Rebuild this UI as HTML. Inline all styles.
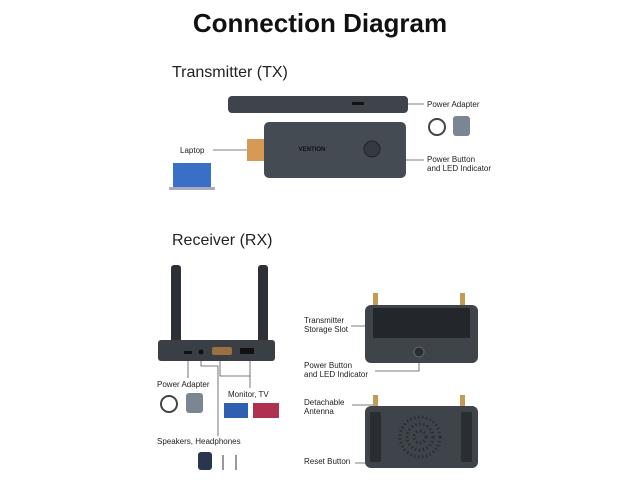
<!DOCTYPE html>
<html><head><meta charset="utf-8"><style>
body{margin:0;width:640px;height:480px;background:#fff;position:relative;overflow:hidden;font-family:"Liberation Sans",sans-serif;color:#222}
.t{position:absolute;white-space:nowrap}
.s{font-size:8px;line-height:9px}
</style></head><body>
<div class="t" style="left:0;width:640px;text-align:center;top:8px;font-size:26px;font-weight:bold;color:#111">Connection Diagram</div>
<div class="t" style="left:172px;top:64px;font-size:16px">Transmitter (TX)</div>
<div class="t" style="left:172px;top:232px;font-size:16px">Receiver (RX)</div>

<div class="t s" style="left:427px;top:100px">Power Adapter</div>
<div class="t s" style="left:427px;top:155px">Power Button<br>and LED Indicator</div>
<div class="t s" style="left:180px;top:146px">Laptop</div>
<div class="t s" style="left:157px;top:380px">Power Adapter</div>
<div class="t s" style="left:228px;top:390px">Monitor, TV</div>
<div class="t s" style="left:157px;top:437px">Speakers, Headphones</div>
<div class="t s" style="left:304px;top:316px">Transmitter<br>Storage Slot</div>
<div class="t s" style="left:304px;top:361px">Power Button<br>and LED Indicator</div>
<div class="t s" style="left:304px;top:398px">Detachable<br>Antenna</div>
<div class="t s" style="left:304px;top:457px">Reset Button</div>

<svg width="640" height="480" style="position:absolute;left:0;top:0">
<g stroke="#555" stroke-width="0.8" fill="none">
<line x1="362" y1="104" x2="424" y2="104"/>
<polyline points="372,149 372,160 424,160"/>
<line x1="213" y1="150" x2="249" y2="150"/>
<line x1="188" y1="356" x2="188" y2="378"/>
<polyline points="201,356 201,366 218,366 218,436"/>
<polyline points="220,360 220,376 250,376 250,360"/>
<line x1="250" y1="376" x2="250" y2="388"/>
<line x1="351" y1="326" x2="376" y2="326"/>
<polyline points="419,356 419,371 375,371"/>
<line x1="352" y1="405" x2="378" y2="405"/>
<line x1="355" y1="463" x2="420" y2="463"/>
</g>
<rect x="228" y="96" width="180" height="17" rx="4" fill="#3f444b"/>
<rect x="352" y="102" width="12" height="3" rx="1" fill="#111"/>
<rect x="247" y="139" width="19" height="22" fill="#d79a55"/>
<rect x="264" y="122" width="142" height="56" rx="5" fill="#454b53"/>
<text x="312" y="151" font-size="6" font-weight="bold" fill="#111" text-anchor="middle" font-family="Liberation Sans">VENTION</text>
<circle cx="372" cy="149" r="8" fill="#353a41" stroke="#222"/>
<circle cx="437" cy="127" r="8" fill="none" stroke="#444" stroke-width="2"/>
<rect x="453" y="116" width="17" height="20" rx="3" fill="#7b8593"/>
<rect x="173" y="163" width="38" height="24" fill="#3a6fc7"/>
<rect x="169" y="187" width="46" height="3" fill="#aab"/>
<rect x="171" y="265" width="10" height="82" rx="3" fill="#2d3137"/>
<rect x="258" y="265" width="10" height="82" rx="3" fill="#2d3137"/>
<rect x="158" y="340" width="117" height="21" rx="3" fill="#3a3f46"/>
<rect x="184" y="351" width="8" height="3" fill="#111"/>
<circle cx="201" cy="352" r="2.5" fill="#111"/>
<rect x="212" y="347" width="20" height="8" rx="2" fill="#9a7040"/>
<rect x="240" y="348" width="14" height="6" fill="#111"/>
<circle cx="169" cy="404" r="8" fill="none" stroke="#444" stroke-width="2"/>
<rect x="186" y="393" width="17" height="20" rx="3" fill="#7b8593"/>
<rect x="224" y="403" width="24" height="15" fill="#2e5fb0"/>
<rect x="253" y="403" width="26" height="15" fill="#b03050"/>
<rect x="198" y="452" width="14" height="18" rx="3" fill="#2a3550"/>
<line x1="223" y1="455" x2="223" y2="470" stroke="#333"/>
<line x1="236" y1="455" x2="236" y2="470" stroke="#333"/>
<rect x="373" y="293" width="5" height="12" fill="#c49a55"/>
<rect x="460" y="293" width="5" height="12" fill="#c49a55"/>
<rect x="365" y="305" width="113" height="58" rx="6" fill="#3f444b"/>
<rect x="373" y="308" width="97" height="30" fill="#23272c"/>
<circle cx="419" cy="352" r="5" fill="#2a2e33" stroke="#666"/>
<rect x="373" y="395" width="5" height="12" fill="#c49a55"/>
<rect x="460" y="395" width="5" height="12" fill="#c49a55"/>
<rect x="365" y="406" width="113" height="62" rx="6" fill="#3f444b"/>
<rect x="370" y="412" width="11" height="50" rx="2" fill="#2a2e33"/>
<rect x="461" y="412" width="11" height="50" rx="2" fill="#2a2e33"/>
<circle cx="420" cy="437" r="20" fill="none" stroke="#2a2e33" stroke-width="3" stroke-dasharray="1.5 2.5"/>
<circle cx="420" cy="437" r="13" fill="none" stroke="#2a2e33" stroke-width="3" stroke-dasharray="1.5 2.5"/>
<circle cx="420" cy="437" r="6" fill="none" stroke="#2a2e33" stroke-width="3" stroke-dasharray="1.5 2.5"/>
</svg>
</body></html>
